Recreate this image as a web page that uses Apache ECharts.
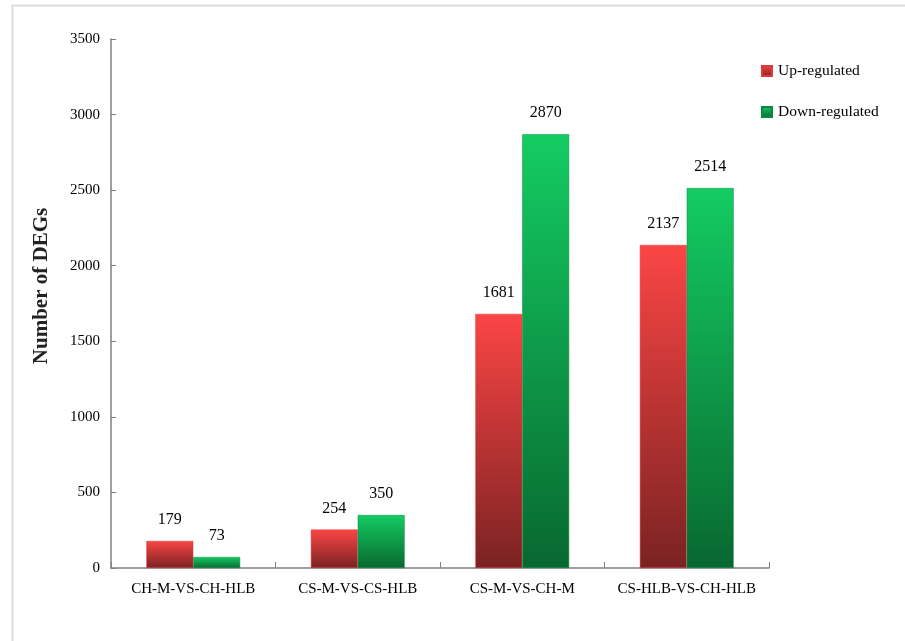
<!DOCTYPE html>
<html><head><meta charset="utf-8">
<script src="https://cdn.jsdelivr.net/npm/echarts@6/dist/echarts.min.js"></script>
<style>html,body{margin:0;padding:0;background:#fff}#c{width:905px;height:641px}</style>
</head><body><div id="c"></div>
<script>
var categories = ['CH-M-VS-CH-HLB', 'CS-M-VS-CS-HLB', 'CS-M-VS-CH-M', 'CS-HLB-VS-CH-HLB'];
var upRegulated = [179, 254, 1681, 2137];
var downRegulated = [73, 350, 2870, 2514];
var seriesNames = ['Up-regulated', 'Down-regulated'];
var yTitle = 'Number of DEGs';

var font = 'Liberation Serif, Times New Roman, serif';
var chart = echarts.init(document.getElementById('c'));
function grad(top, bottom) {
  return new echarts.graphic.LinearGradient(0, 0, 0, 1, [{offset: 0, color: top}, {offset: 1, color: bottom}]);
}
chart.setOption({
  animation: false,
  backgroundColor: '#fff',
  graphic: [{
    type: 'rect', shape: {x: 12.5, y: 5.5, width: 1000, height: 1000},
    style: {fill: 'none', stroke: '#dcdcdc', lineWidth: 2}, z: -10
  }, {
    type: 'text', x: 42, y: 286, rotation: Math.PI / 2,
    style: {text: yTitle, fontFamily: font, fontSize: 21, fontWeight: 'bold', fill: '#222',
            align: 'center', verticalAlign: 'middle'}
  }],
  grid: {left: 111, right: 136, top: 39, bottom: 73},
  legend: {
    orient: 'vertical', left: 756, top: 58, itemGap: 25, itemWidth: 10, itemHeight: 10,
    icon: 'rect',
    textStyle: {fontFamily: font, fontSize: 15.5, color: '#000', padding: [0, 0, 0, 1]},
    data: seriesNames
  },
  xAxis: {
    type: 'category', data: categories,
    axisLine: {lineStyle: {color: '#808080', width: 1.5}},
    axisTick: {show: true, inside: true, length: 6, lineStyle: {color: '#808080'}},
    axisLabel: {interval: 0, fontFamily: font, fontSize: 15, color: '#000', margin: 14}
  },
  yAxis: {
    type: 'value', min: 0, max: 3500, interval: 500,
    axisLine: {show: true, lineStyle: {color: '#808080', width: 1.5}},
    axisTick: {show: true, inside: true, length: 5, lineStyle: {color: '#808080'}},
    splitLine: {show: false},
    axisLabel: {formatter: function (v) { return String(v); }, fontFamily: font, fontSize: 15, color: '#000', margin: 11}
  },
  series: [{
    name: seriesNames[0], type: 'bar', data: upRegulated,
    barCategoryGap: '43%', barGap: '0%',
    itemStyle: {color: grad('#fb4545', '#7a2222'), borderColor: '#e03a3a', borderWidth: 0.5},
    label: {show: true, position: 'top', distance: 13, fontFamily: font, fontSize: 16, color: '#000'}
  }, {
    name: seriesNames[1], type: 'bar', data: downRegulated,
    barCategoryGap: '43%', barGap: '0%',
    itemStyle: {color: grad('#14cc62', '#086830'), borderColor: '#0a8a40', borderWidth: 0.5},
    label: {show: true, position: 'top', distance: 13, fontFamily: font, fontSize: 16, color: '#000'}
  }]
});
</script></body></html>
